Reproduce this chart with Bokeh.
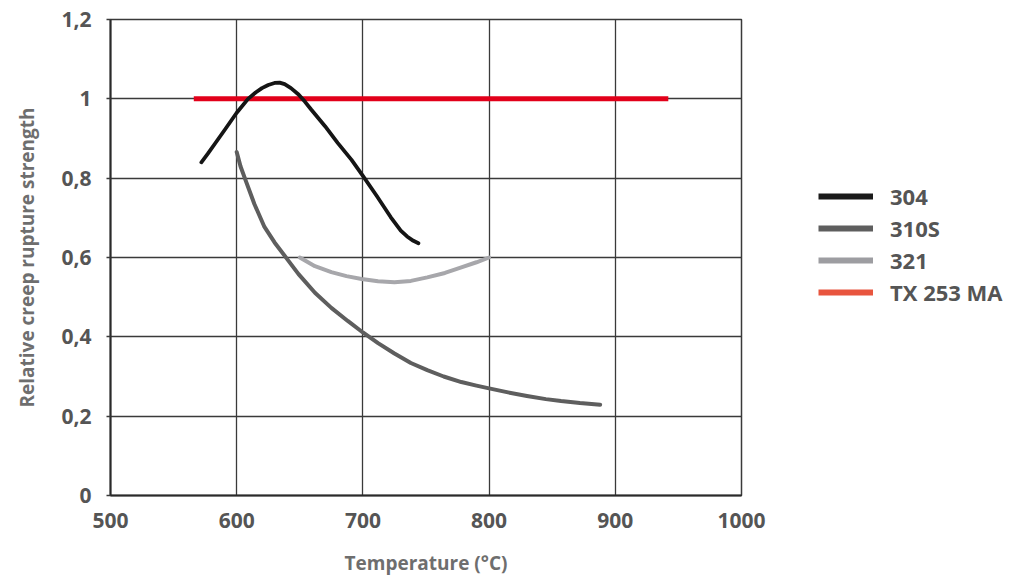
from bokeh.plotting import figure
from bokeh.layouts import row
from bokeh.models import Legend, LegendItem, FixedTicker, Range1d
from bokeh.embed import file_html
from bokeh.resources import INLINE

# --- data (temperature in °C, relative strength)
t_304 = [572, 577, 583, 591, 600, 609, 615, 620, 625, 630, 634, 638, 643, 649, 654, 659,
         670, 680, 691, 700, 711, 722, 730, 735, 740, 744]
v_304 = [0.840, 0.861, 0.888, 0.924, 0.965, 1.000, 1.016, 1.027, 1.035, 1.040, 1.041, 1.037, 1.027,
         1.011, 0.993, 0.973, 0.931, 0.889, 0.846, 0.806, 0.755, 0.702, 0.668, 0.653, 0.642, 0.636]

t_310s = [600, 603, 607, 614, 622, 630, 640, 649, 662, 675, 688, 700, 712, 725, 738, 751,
          764, 778, 790, 800, 815, 830, 845, 857, 872, 888]
v_310s = [0.866, 0.830, 0.795, 0.735, 0.677, 0.638, 0.596, 0.558, 0.511, 0.473, 0.440, 0.411,
          0.384, 0.358, 0.334, 0.316, 0.300, 0.286, 0.277, 0.270, 0.260, 0.251, 0.243, 0.238,
          0.233, 0.229]

t_321 = [650, 662, 675, 687, 699, 712, 725, 738, 751, 765, 778, 790, 800]
v_321 = [0.6, 0.578, 0.563, 0.553, 0.546, 0.540, 0.5375, 0.541, 0.550, 0.561, 0.575, 0.588, 0.6]

t_tx = [566, 942]
v_tx = [1.0, 1.0]

x_ticks = [500, 600, 700, 800, 900, 1000]
y_ticks = [0, 0.2, 0.4, 0.6, 0.8, 1.0, 1.2]
y_tick_labels = ["0", "0,2", "0,4", "0,6", "0,8", "1", "1,2"]

series_names = ["304", "310S", "321", "TX 253 MA"]

FONT = "Open Sans"
GRID = "#3a3a3a"

p = figure(width=771, height=578, output_backend="svg", toolbar_location=None,
           x_range=Range1d(500, 1000), y_range=Range1d(0, 1.2),
           min_border_left=110, min_border_top=19, min_border_bottom=83, min_border_right=30)

p.background_fill_color = "white"
p.border_fill_color = "white"
p.outline_line_color = GRID
p.outline_line_width = 1.5

p.xgrid.grid_line_color = GRID
p.ygrid.grid_line_color = GRID
p.xgrid.grid_line_width = 1.3
p.ygrid.grid_line_width = 1.3

p.xaxis.ticker = FixedTicker(ticks=x_ticks)
p.yaxis.ticker = FixedTicker(ticks=y_ticks)
p.yaxis.major_label_overrides = {t: s for t, s in zip(y_ticks, y_tick_labels)}

for ax in (p.xaxis[0], p.yaxis[0]):
    ax.axis_line_color = "#2a2a2a"
    ax.axis_line_width = 2
    ax.major_tick_line_color = GRID
    ax.major_tick_line_width = 1.3
    ax.minor_tick_line_color = None
    ax.major_tick_in = 0
    ax.major_label_text_font = FONT
    ax.major_label_text_font_style = "bold"
    ax.major_label_text_font_size = "21px"
    ax.major_label_text_color = "#555555"
    ax.axis_label_text_font = FONT
    ax.axis_label_text_font_style = "bold"
    ax.axis_label_text_font_size = "19px"
    ax.axis_label_text_color = "#6e6e6e"

p.xaxis.major_tick_out = 0
p.xaxis.major_label_standoff = 17
p.xaxis.axis_label = "Temperature (°C)"
p.xaxis.axis_label_standoff = 19

p.yaxis.major_tick_out = 4
p.yaxis.major_label_standoff = 15
p.yaxis.axis_label = "Relative creep rupture strength"
p.yaxis.axis_label_standoff = 18

# --- curves
p.line(t_tx, v_tx, line_color="#e2001a", line_width=5)
p.line(t_310s, v_310s, line_color="#5e5e5e", line_width=4, line_cap="round", line_join="round")
p.line(t_321, v_321, line_color="#a7a7ab", line_width=4, line_cap="round", line_join="round")
p.line(t_304, v_304, line_color="#151515", line_width=3.8, line_cap="round", line_join="round")

# --- legend lives in its own blank panel to the right of the plot
lg = figure(width=245, height=578, output_backend="svg", toolbar_location=None,
            x_range=Range1d(0, 1), y_range=Range1d(0, 1), min_border=0)
lg.axis.visible = False
lg.grid.visible = False
lg.outline_line_color = None
lg.background_fill_color = "white"
lg.border_fill_color = "white"

# swatch colours differ from the plotted lines (legend red is more orange)
swatch_colors = ["#1a1a1a", "#5e5e5e", "#9d9da1", "#e8553e"]
items = []
for name, c in zip(series_names, swatch_colors):
    r = lg.line([-5, -4], [-5, -4], line_color=c, line_width=6)
    items.append(LegendItem(label=name, renderers=[r]))

legend = Legend(items=items, location=(47, 188), orientation="vertical",
                glyph_width=55, glyph_height=30, label_height=30, spacing=2,
                label_standoff=17, padding=0, margin=0,
                border_line_color=None, background_fill_alpha=0,
                label_text_font=FONT, label_text_font_style="bold",
                label_text_font_size="22px", label_text_color="#555555")
lg.add_layout(legend, "center")

layout = row(p, lg, spacing=0)
open("out.html", "w").write(file_html(layout, INLINE))
